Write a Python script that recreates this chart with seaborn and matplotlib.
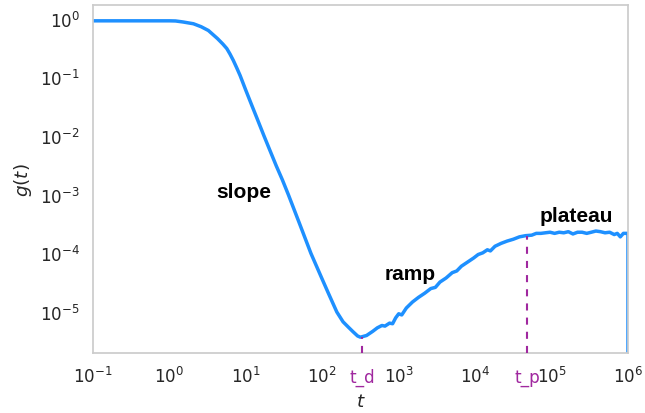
import numpy as np
import pandas as pd
import matplotlib
matplotlib.use("Agg")
import matplotlib.pyplot as plt
import seaborn as sns

# ---- data ----
t_values = [0.1, 0.3, 1.0, 1.2, 1.5, 2.06, 2.6, 3.23, 4.24, 5.0, 5.63, 6.2, 6.86, 7.6,
            8.4, 10, 12, 14, 17.3, 20, 25, 30, 36, 50, 71, 100, 120, 138, 155, 187,
            220, 253, 290,
            316, 380, 457, 525, 603, 661, 759, 832, 912, 1000, 1096, 1259, 1514, 1820,
            2188, 2630, 3020, 3467, 4169, 5012, 5754, 6607, 7943, 9550, 10965, 12589,
            14454, 15849, 18197, 21878, 26303, 31623, 38019, 45709, 54954, 63096,
            72444, 83176, 95499, 1.096e5, 1.259e5, 1.445e5, 1.660e5, 1.905e5, 2.188e5,
            2.512e5, 2.884e5, 3.311e5, 3.802e5, 4.365e5, 5.012e5, 5.754e5, 6.607e5,
            7.244e5, 7.943e5, 8.710e5, 1.0e6, 1.0e6]
g_values = [0.92, 0.92, 0.92, 0.915, 0.88, 0.82, 0.73, 0.63, 0.46, 0.37, 0.31, 0.25,
            0.194, 0.145, 0.108, 0.060, 0.033, 0.020, 0.010, 0.0063, 0.0031, 0.0018,
            0.0010, 3.3e-4, 1.0e-4, 3.6e-5, 2.1e-5, 1.4e-5, 1.0e-5, 6.8e-6,
            5.5e-6, 4.6e-6, 3.9e-6,
            3.72e-6, 3.98e-6, 4.68e-6, 5.37e-6, 5.89e-6, 5.75e-6, 6.46e-6, 6.31e-6,
            7.94e-6, 9.33e-6, 8.91e-6, 1.17e-5, 1.48e-5, 1.78e-5, 2.09e-5, 2.51e-5,
            2.63e-5, 3.24e-5, 3.80e-5, 4.68e-5, 5.01e-5, 6.03e-5, 7.08e-5, 8.32e-5,
            9.55e-5, 1.02e-4, 1.15e-4, 1.10e-4, 1.32e-4, 1.48e-4, 1.62e-4, 1.74e-4,
            1.91e-4, 2.00e-4, 2.04e-4, 2.19e-4, 2.19e-4, 2.24e-4, 2.29e-4, 2.19e-4,
            2.29e-4, 2.24e-4, 2.34e-4, 2.14e-4, 2.29e-4, 2.29e-4, 2.19e-4, 2.29e-4,
            2.40e-4, 2.34e-4, 2.24e-4, 2.29e-4, 2.09e-4, 2.19e-4, 1.91e-4, 2.19e-4,
            2.19e-4, 0.0]

t_d, g_d = 330, 3.8e-6
t_p, g_p = 4.8e4, 2.0e-4
marker_labels = ["t_d", "t_p"]
region_labels = ["slope", "ramp", "plateau"]
region_x = [9.5, 1410, 2.08e5]
region_y = [1.12e-3, 4.5e-5, 4.4e-4]

df = pd.DataFrame({"t": t_values, "g": g_values})

sns.set_theme(style="whitegrid", context="notebook", font_scale=1.1)
fig, ax = plt.subplots(figsize=(6.45, 4.14), dpi=100)
fig.subplots_adjust(left=0.1442, right=0.9736, bottom=0.1449, top=0.9855)

sns.lineplot(data=df, x="t", y="g", ax=ax, color="dodgerblue", linewidth=2.5,
             sort=False, estimator=None)
ax.set_xscale("log")
ax.set_yscale("log")
ax.set_xlim(0.1, 1e6)
ax.grid(False)
ylo, yhi = ax.get_ylim()

purple = "#a0289f"
ax.vlines([t_d, t_p], [ylo, ylo], [g_d, g_p], colors=purple, linewidth=1.5,
          linestyles=[(0, (3.4, 3.4))], zorder=3, clip_on=False)
ax.set_ylim(ylo, yhi)

tick_size = plt.rcParams["xtick.labelsize"]
for x, lab in zip([t_d, t_p], marker_labels):
    ax.text(x, -0.0833, lab, transform=ax.get_xaxis_transform(), ha="center",
            va="baseline", fontsize=tick_size, color=purple)

for x, y, lab in zip(region_x, region_y, region_labels):
    ax.text(x, y, lab, ha="center", va="center", fontsize=15, fontweight="bold",
            family=["Liberation Sans", "DejaVu Sans"], color="black")

ax.set_xlabel("$t$")
ax.set_ylabel("$g(t)$")

fig.savefig("out.png", dpi=100)
